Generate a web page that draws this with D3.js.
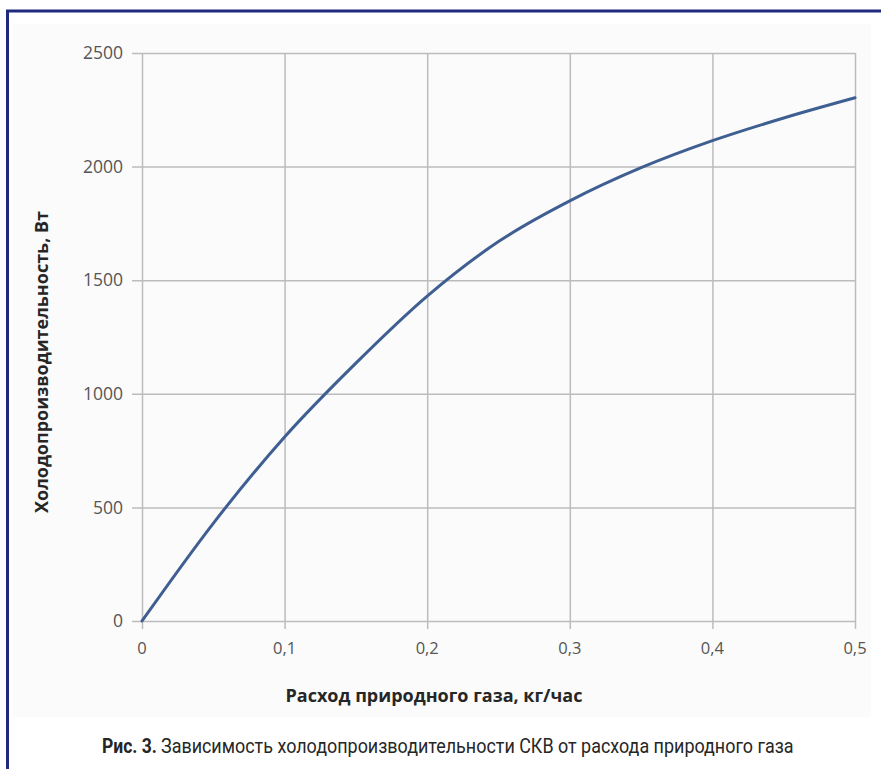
<!DOCTYPE html>
<html>
<head>
<meta charset="utf-8">
<script src="https://cdn.jsdelivr.net/npm/d3@7"></script>
<style>
  html, body { margin: 0; padding: 0; background: #ffffff; }
  svg { display: block; }
  .cap { font-family: 'Roboto', 'Liberation Sans', sans-serif; }
</style>
</head>
<body>
<svg id="chart" width="881" height="769"></svg>
<script>
// ---- data ----
const flowRate = [0, 0.05, 0.1, 0.15, 0.2, 0.25, 0.3, 0.35, 0.4, 0.45, 0.5];
const coolingPower = [0, 430, 810, 1135, 1430, 1670, 1849, 1995, 2114, 2214, 2303];
const xTicks = [0, 0.1, 0.2, 0.3, 0.4, 0.5];
const xTickLabels = ["0", "0,1", "0,2", "0,3", "0,4", "0,5"];
const yTicks = [0, 500, 1000, 1500, 2000, 2500];
const yTickLabels = ["0", "500", "1000", "1500", "2000", "2500"];
const xTitle = "Расход природного газа, кг/час";
const yTitle = "Холодопроизводительность, Вт";
const captionBold = "Рис. 3.";
const captionText = "Зависимость холодопроизводительности СКВ от расхода природного газа";

// ---- layout ----
const svg = d3.select("#chart");
const x = d3.scaleLinear().domain([0, 0.5]).range([142, 855]);
const y = d3.scaleLinear().domain([0, 2500]).range([621, 53]);

// faint panel background
svg.append("rect").attr("x", 13).attr("y", 24).attr("width", 858).attr("height", 693)
  .attr("fill", "#fbfbfb");

// frame (top and left)
svg.append("path").attr("d", "M7.5,769 L7.5,11 L881,11")
  .attr("fill", "none").attr("stroke", "#1f2a7c").attr("stroke-width", 3);

// gridlines via axes
const gridColor = "#bcbcbc";
const yAxis = d3.axisLeft(y).tickValues(yTicks).tickSize(-(855 - 132)).tickFormat("");
svg.append("g").attr("transform", "translate(132,0)").call(yAxis)
  .call(g => g.select(".domain").remove())
  .call(g => g.selectAll("line").attr("stroke", gridColor).attr("stroke-width", 1.5));

const xAxis = d3.axisBottom(x).tickValues(xTicks).tickSize(-(629 - 53)).tickFormat("");
svg.append("g").attr("transform", "translate(0,629)").call(xAxis)
  .call(g => g.select(".domain").remove())
  .call(g => g.selectAll("line").attr("stroke", gridColor).attr("stroke-width", 1.5));

// tick labels
const tickFont = "'Open Sans', 'Liberation Sans', sans-serif";
svg.append("g").selectAll("text").data(yTicks).join("text")
  .attr("x", 123).attr("y", d => y(d)).attr("dy", "0.35em")
  .attr("text-anchor", "end")
  .attr("font-family", tickFont).attr("font-size", 17.5)
  .attr("fill", "#555555")
  .text((d, i) => yTickLabels[i]);

svg.append("g").selectAll("text").data(xTicks).join("text")
  .attr("x", d => x(d)).attr("y", 654)
  .attr("text-anchor", "middle")
  .attr("font-family", tickFont).attr("font-size", 16.5)
  .attr("fill", "#555555")
  .text((d, i) => xTickLabels[i]);

// curve
const line = d3.line().x((d, i) => x(flowRate[i])).y(d => y(d)).curve(d3.curveMonotoneX);
svg.append("path").datum(coolingPower)
  .attr("d", line)
  .attr("fill", "none").attr("stroke", "#3f5f92").attr("stroke-width", 3)
  .attr("stroke-linecap", "round");

// axis titles
svg.append("text")
  .attr("x", 434).attr("y", 702)
  .attr("text-anchor", "middle")
  .attr("font-family", tickFont).attr("font-weight", "bold").attr("font-size", 18)
  .attr("fill", "#262626")
  .text(xTitle);

svg.append("text")
  .attr("transform", "translate(48,362) rotate(-90)")
  .attr("text-anchor", "middle")
  .attr("font-family", tickFont).attr("font-weight", "bold").attr("font-size", 18)
  .attr("fill", "#262626")
  .text(yTitle);

// caption: condensed look via horizontal scaling to the reference widths
function condensed(text, x0, width, bold) {
  const t = svg.append("text").attr("class", "cap")
    .attr("x", 0).attr("y", 0)
    .attr("font-size", 20)
    .attr("font-weight", bold ? "bold" : "normal")
    .attr("fill", "#262626")
    .text(text);
  const w = t.node().getComputedTextLength();
  t.attr("transform", `translate(${x0},753) scale(${width / w},1)`);
}
condensed(captionBold, 102, 55, true);
condensed(captionText, 161, 633, false);
</script>
</body>
</html>
